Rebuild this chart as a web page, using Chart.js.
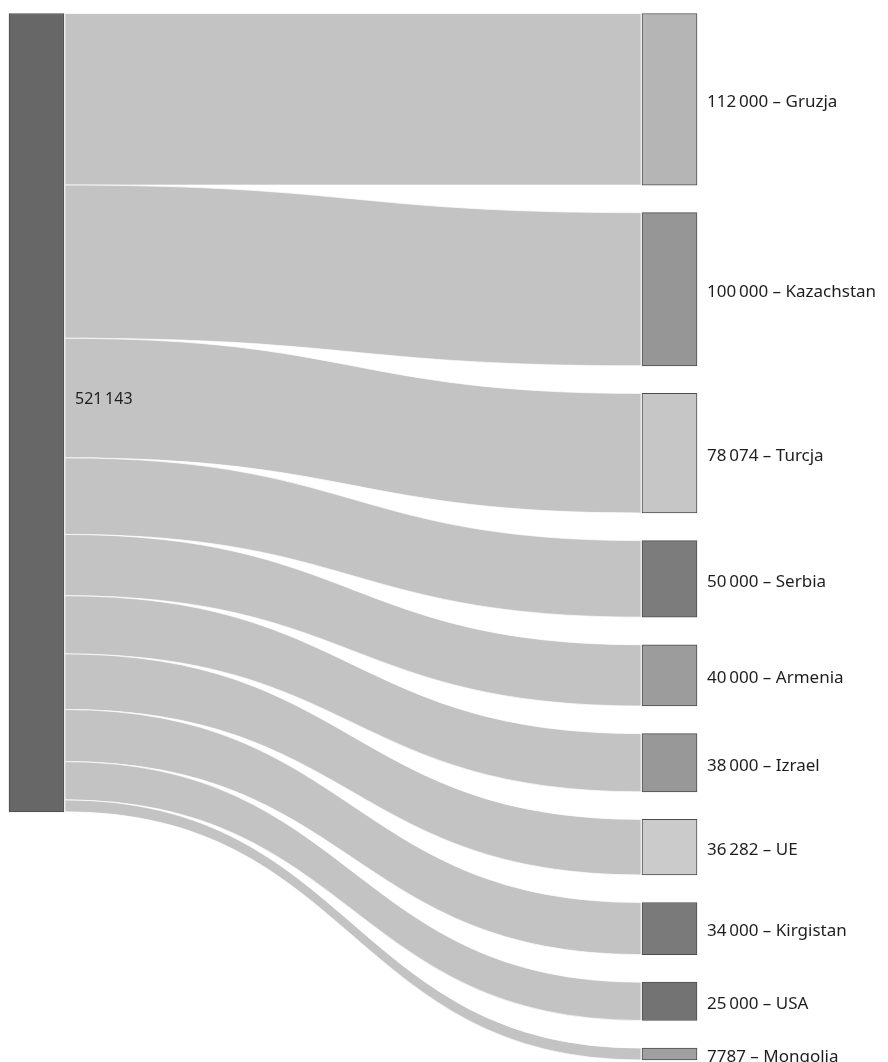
<!DOCTYPE html>
<html>
<head>
<meta charset="utf-8">
<script src="https://cdn.jsdelivr.net/npm/chart.js@4/dist/chart.umd.min.js"></script>
<style>
  html, body { margin: 0; padding: 0; background: #fff; }
  #wrap { width: 888px; height: 1062px; position: relative; }
</style>
</head>
<body>
<div id="wrap"><canvas id="chart"></canvas></div>
<script>
// data
const countries = ['Gruzja', 'Kazachstan', 'Turcja', 'Serbia', 'Armenia', 'Izrael', 'UE', 'Kirgistan', 'USA', 'Mongolia'];
const amounts = [112000, 100000, 78074, 50000, 40000, 38000, 36282, 34000, 25000, 7787];
const sourceColor = '#676767';
const targetColors = ['#b5b5b5', '#969696', '#c6c6c6', '#7c7c7c', '#9c9c9c', '#989898', '#cbcbcb', '#7a7a7a', '#737373', '#a0a0a0'];

const GAP = 18000; // space between target nodes, in value units
const total = amounts.reduce((a, b) => a + b, 0);
const span = total + GAP * (amounts.length - 1);

// pl-PL style: group only from 5 digits up
const fmt = v => v >= 10000 ? String(v).replace(/\B(?=(\d{3})+(?!\d))/g, '\u2009') : String(v);

const nodeData = [{ x: 'src', y: [0, total] }];
let acc = 0;
amounts.forEach((v, i) => {
  const start = acc + i * GAP;
  nodeData.push({ x: 'dst', y: [start, start + v] });
  acc += v;
});

const flowPlugin = {
  id: 'flows',
  beforeDatasetsDraw(chart) {
    const ctx = chart.ctx;
    const y = chart.scales.y;
    const bars = chart.getDatasetMeta(0).data;
    const src = bars[0];
    const x0 = src.x + src.width / 2 + 1;
    let s = 0;
    ctx.save();
    amounts.forEach((v, i) => {
      const t = bars[i + 1];
      const x1 = t.x - t.width / 2 - 1;
      const mx = (x0 + x1) / 2;
      const sy0 = y.getPixelForValue(s), sy1 = y.getPixelForValue(s + v);
      const ty0 = y.getPixelForValue(nodeData[i + 1].y[0]), ty1 = y.getPixelForValue(nodeData[i + 1].y[1]);
      ctx.beginPath();
      ctx.moveTo(x0, sy0);
      ctx.bezierCurveTo(mx, sy0, mx, ty0, x1, ty0);
      ctx.lineTo(x1, ty1);
      ctx.bezierCurveTo(mx, ty1, mx, sy1, x0, sy1);
      ctx.closePath();
      ctx.fillStyle = '#c3c3c3';
      ctx.fill();
      ctx.strokeStyle = 'rgba(255,255,255,0.9)';
      ctx.lineWidth = 0.8;
      ctx.stroke();
      s += v;
    });
    ctx.restore();
  },
  afterDatasetsDraw(chart) {
    const ctx = chart.ctx;
    const bars = chart.getDatasetMeta(0).data;
    ctx.save();
    ctx.fillStyle = '#1e1e1e';
    ctx.textBaseline = 'middle';
    ctx.textAlign = 'left';
    const src = bars[0];
    ctx.font = '16px "Noto Sans", sans-serif';
    ctx.fillText(fmt(total), src.x + src.width / 2 + 11, (src.y + src.base) / 2 - 13);
    ctx.font = '17px "Noto Sans", sans-serif';
    amounts.forEach((v, i) => {
      const b = bars[i + 1];
      ctx.fillText(fmt(v) + ' \u2013 ' + countries[i], b.x + b.width / 2 + 10, (b.y + b.base) / 2 + 3);
    });
    ctx.restore();
  }
};

new Chart(document.getElementById('chart'), {
  type: 'bar',
  data: {
    labels: ['src', 'dst'],
    datasets: [{
      data: nodeData,
      backgroundColor: [sourceColor, ...targetColors],
      borderColor: '#4c4c4c',
      borderWidth: 1,
      borderSkipped: false,
      barThickness: 55,
      clip: false
    }]
  },
  options: {
    responsive: true,
    maintainAspectRatio: false,
    animation: false,
    layout: { padding: { left: 36.5, right: 218.5, top: 13.5, bottom: 2 } },
    plugins: { legend: { display: false }, tooltip: { enabled: false } },
    scales: {
      x: { type: 'category', offset: false, display: false },
      y: { type: 'linear', reverse: true, min: 0, max: span, display: false }
    }
  },
  plugins: [flowPlugin]
});
</script>
</body>
</html>
